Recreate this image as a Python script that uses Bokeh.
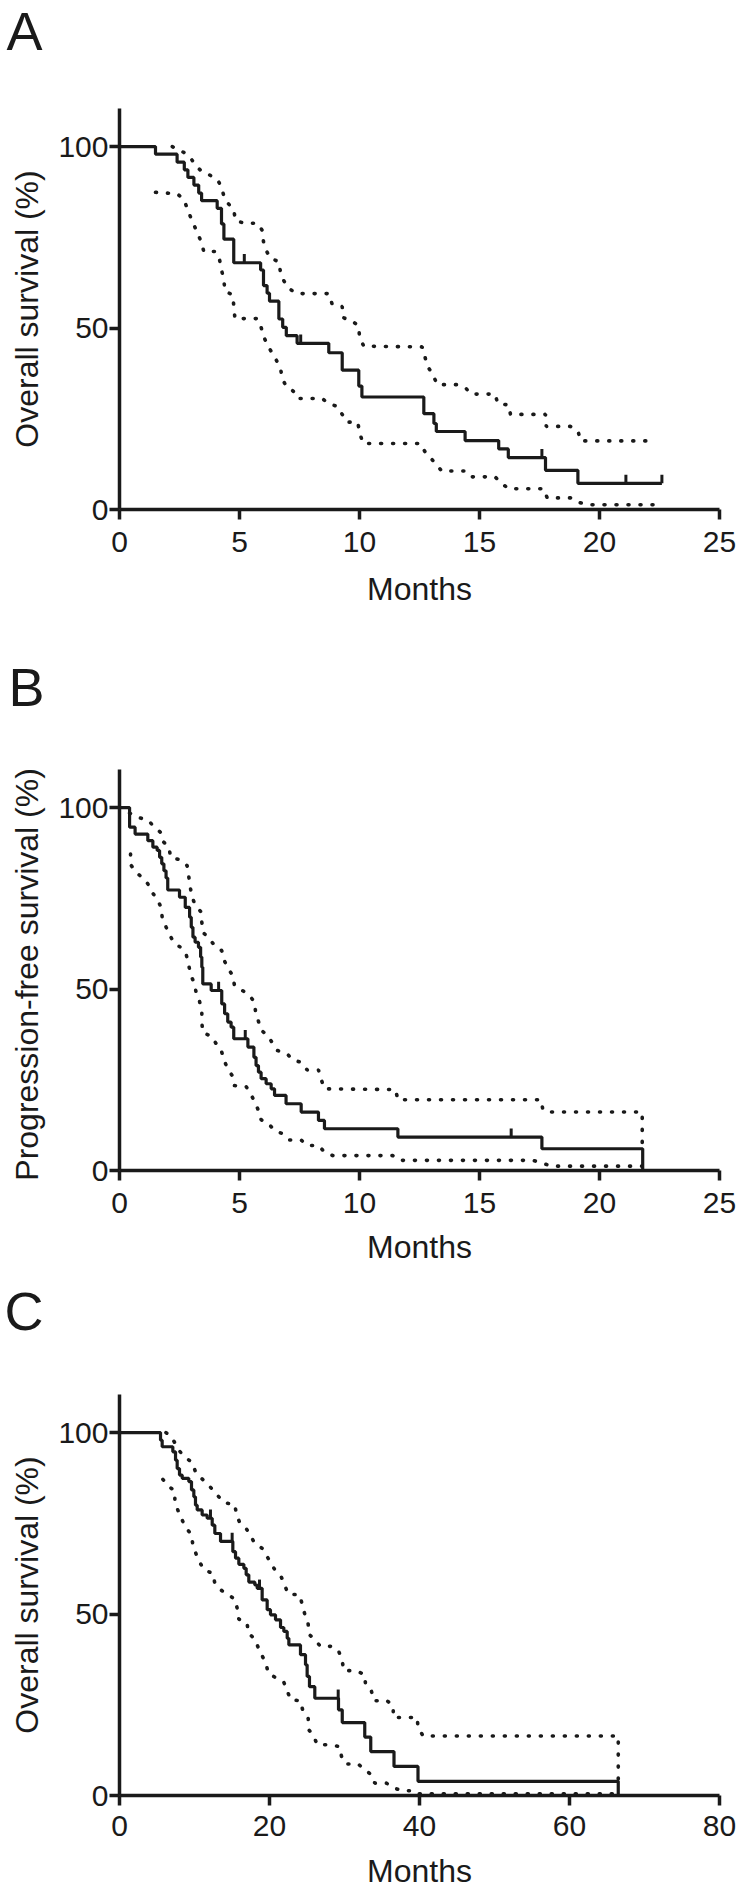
import numpy as np
from bokeh.plotting import figure
from bokeh.models import Range1d, FixedTicker
from bokeh.layouts import column
from bokeh.embed import file_html
from bokeh.resources import INLINE

# ---------------- Panel A: overall survival ----------------
A_time = [0, 1.5, 2.4, 2.7, 2.85, 3.1, 3.3, 3.42, 4.07, 4.25, 4.35, 4.76, 5.88, 6.0,
          6.15, 6.25, 6.64, 6.8, 6.95, 7.4, 8.72, 9.28, 9.97, 10.1, 12.68, 13.1, 13.2,
          14.4, 15.8, 16.2, 17.75, 19.1, 22.6]
A_surv = [100, 97.9, 95.7, 93.6, 91.5, 89.4, 87.2, 85.1, 83.0, 78.7, 74.5, 68.0, 66.0, 61.7,
          59.6, 57.4, 52.5, 50.2, 47.9, 45.8, 43.2, 38.4, 34.0, 31.0, 26.4, 23.7, 21.5,
          19.0, 16.7, 14.3, 10.8, 7.2, 7.2]
A_censor = [5.2, 7.55, 17.6, 21.1, 22.6]
A_up_t = [2.2, 2.68, 2.95, 3.17, 3.42, 3.72, 4.07, 4.25, 4.35, 4.53, 4.76, 4.83, 5.18, 5.74,
          5.94, 6.0, 6.11, 6.29, 6.64, 6.71, 6.85, 7.03, 7.4, 8.72, 8.86, 9.28, 9.31, 9.69,
          9.97, 10.0, 10.18, 12.61, 12.72, 12.82, 13.03, 13.24, 14.07, 14.42, 14.65, 15.65,
          15.76, 16.22, 16.29, 17.75, 17.78, 18.79, 19.11, 19.21, 22.24]
A_up_v = [100, 98.4, 97.0, 94.8, 93.2, 92.3, 91.0, 88.9, 86.3, 84.3, 82.6, 79.7, 78.9, 78.9,
          77.0, 73.8, 71.4, 69.2, 68.3, 65.3, 63.0, 61.0, 59.5, 59.5, 56.6, 55.9, 52.9, 51.9,
          50.6, 47.4, 45.0, 44.8, 42.3, 39.5, 37.6, 34.4, 34.4, 33.5, 31.8, 31.8,
          29.2, 28.8, 26.2, 26.2, 22.9, 22.9, 21.5, 18.9, 18.9]
A_lo_t = [1.5, 2.4, 2.68, 2.82, 2.96, 3.1, 3.24, 3.42, 3.51, 4.0, 4.17, 4.25, 4.35, 4.39,
          4.72, 4.76, 4.81, 5.74, 5.9, 6.01, 6.19, 6.53, 6.71, 6.78, 6.94, 7.24, 7.4, 8.44,
          8.72, 9.07, 9.28, 9.46, 9.93, 10.0, 10.15, 12.54, 12.72, 12.96, 13.21, 13.42,
          14.42, 14.65, 15.65, 15.9, 16.22, 17.68, 17.82, 18.79, 19.11, 19.53, 22.54]
A_lo_v = [87.4, 87.0, 85.5, 83.0, 80.6, 78.5, 76.2, 73.6, 71.1, 71.1, 68.8, 66.0, 63.3, 60.2,
          59.1, 56.2, 52.6, 52.6, 50.2, 47.6, 45.0, 41.2, 38.9, 36.1, 34.0, 32.6, 30.6, 30.6,
          29.2, 28.4, 26.2, 24.1, 24.0, 21.2, 18.2, 18.2, 16.0, 14.2, 12.4, 10.6,
          10.6, 9.0, 9.0, 7.3, 5.7, 5.7, 3.2, 3.2, 2.0, 1.3, 1.3]

# ---------------- Panel B: progression-free survival ----------------
B_time = [0, 0.42, 0.65, 1.18, 1.39, 1.57, 1.67, 1.76, 1.85, 1.94, 2.01, 2.5, 2.74, 2.92,
          2.99, 3.06, 3.15, 3.29, 3.38, 3.43, 3.47, 3.82, 4.26, 4.38, 4.51, 4.65, 4.76,
          5.35, 5.6, 5.69, 5.79, 5.9, 6.11, 6.32, 6.46, 6.94, 7.57, 8.29, 8.54, 11.6,
          17.6, 21.8]
B_surv = [100, 94.6, 92.7, 90.9, 89.1, 88.2, 86.3, 84.5, 82.6, 80.6, 77.3, 75.3, 72.5, 69.8,
          67.0, 64.3, 62.9, 61.5, 58.8, 56.0, 51.4, 49.6, 45.9, 43.2, 40.9, 39.5, 36.3,
          34.0, 31.2, 28.9, 27.1, 25.3, 23.9, 22.5, 20.7, 18.4, 16.1, 13.8, 11.5, 9.2,
          6.0, 0.0]
B_censor = [4.13, 5.24, 16.32]
B_up_t = [0.42, 0.76, 1.18, 1.43, 1.71, 1.81, 2.06, 2.13, 2.54, 2.82, 2.88, 2.94, 3.01, 3.13,
          3.4, 3.43, 3.5, 3.75, 3.96, 4.26, 4.35, 4.51, 4.72, 4.79, 5.07, 5.38, 5.63, 5.67,
          5.79, 5.9, 6.21, 6.39, 6.57, 6.99, 7.22, 7.57, 7.82, 8.29, 8.4, 8.54, 11.5, 11.6,
          17.57, 17.64, 17.9, 21.55, 21.78, 21.78]
B_up_v = [98.5, 97.3, 96.6, 94.8, 93.2, 90.7, 89.1, 86.3, 85.6, 84.0, 81.3, 78.4, 75.8, 73.5,
          71.2, 68.4, 65.5, 63.8, 62.0, 60.6, 58.1, 55.8, 53.7, 51.0, 49.8, 48.5, 46.4, 43.6,
          41.1, 38.7, 36.9, 34.9, 33.1, 32.1, 30.5, 29.8, 27.7, 27.7, 25.2, 22.5, 22.3, 19.5,
          19.5, 16.7, 16.1, 16.1, 16.1, 6.0]
B_lo_t = [0.46, 0.46, 0.69, 0.97, 1.18, 1.35, 1.57, 1.74, 1.78, 1.94, 2.08, 2.26, 2.54, 2.78,
          2.88, 2.96, 3.13, 3.19, 3.33, 3.43, 3.43, 3.47, 3.85, 4.03, 4.24, 4.35, 4.51, 4.72,
          4.79, 5.28, 5.46, 5.65, 5.79, 5.9, 6.21, 6.46, 6.81, 7.08, 7.57, 7.82, 8.29, 8.54,
          8.89, 11.39, 11.67, 17.22, 17.64, 17.99, 21.78]
B_lo_v = [87.2, 84.3, 82.2, 80.6, 79.0, 76.7, 74.8, 72.4, 69.6, 67.1, 65.0, 62.9, 61.5, 59.5,
          56.8, 54.0, 51.4, 49.1, 46.8, 43.6, 40.9, 38.0, 36.9, 34.9, 33.1, 30.5, 28.0, 25.9,
          23.4, 23.1, 21.1, 18.8, 16.5, 14.0, 12.9, 11.0, 10.1, 8.4, 8.4, 6.9, 6.9, 5.1,
          4.1, 4.1, 2.8, 2.8, 2.0, 1.2, 1.2]

# ---------------- Panel C: overall survival ----------------
C_time = [0, 5.47, 5.69, 7.11, 7.47, 7.69, 8.0, 8.36, 9.24, 9.6, 9.91, 10.13, 10.36, 11.02,
          11.69, 12.36, 12.71, 13.47, 15.11, 15.47, 15.91, 16.58, 16.89, 17.24, 18.04, 18.36,
          19.02, 19.69, 20.13, 20.8, 21.47, 21.91, 22.36, 22.58, 24.13, 24.8, 25.02, 25.33,
          26.04, 29.2, 29.7, 32.7, 33.5, 36.6, 39.8, 66.5]
C_surv = [100, 97.9, 96.1, 94.7, 92.4, 90.1, 88.3, 87.4, 86.5, 84.2, 82.3, 80.0, 78.7, 77.3,
          76.4, 74.5, 72.2, 70.0, 67.2, 65.4, 63.7, 62.6, 60.8, 58.8, 58.0, 57.1,
          53.9, 51.2, 49.8, 48.4, 46.3, 45.2, 43.3, 41.5, 38.8, 36.0, 32.8, 30.0,
          26.8, 23.6, 20.1, 16.1, 12.1, 8.0, 3.9, 0.0]
C_censor = [12.13, 15.02, 18.67, 29.16]
C_up_t = [6.2, 6.8, 7.47, 8.0, 8.8, 9.69, 10.13, 10.93, 11.69, 12.44, 13.24, 13.91, 15.38,
          15.56, 16.0, 16.89, 18.04, 19.02, 19.69, 20.8, 21.6, 22.04, 22.49, 24.0, 24.36,
          24.71, 25.16, 25.24, 26.04, 26.8, 28.44, 29.24, 29.69, 29.91, 31.47, 32.71, 32.8,
          33.6, 33.91, 35.6, 36.5, 36.5, 39.7, 39.8, 40.5, 66.1, 66.5, 66.5]
C_up_v = [100, 99.1, 96.9, 94.9, 93.1, 91.8, 89.2, 87.4, 86.0, 84.2, 82.3, 80.7, 80.2,
          77.8, 75.3, 73.6, 69.5, 68.1, 65.8, 61.9, 60.1, 57.9, 55.5, 55.3, 52.7,
          49.9, 47.2, 44.5, 42.9, 41.1, 41.1, 39.7, 37.1, 34.4, 34.4, 33.3, 30.5,
          28.7, 26.1, 26.2, 24.8, 21.5, 21.5, 18.6, 16.4, 16.4, 16.4, 3.9]
C_lo_t = [5.78, 6.49, 7.38, 7.38, 7.82, 8.36, 8.8, 9.6, 9.78, 10.22, 10.67, 11.24, 12.44,
          12.71, 13.47, 14.36, 15.38, 15.69, 15.91, 17.02, 17.16, 18.04, 18.49, 19.02, 19.56,
          19.82, 20.8, 21.91, 22.36, 22.8, 24.13, 24.44, 25.16, 25.24, 25.91, 26.36, 27.91,
          29.33, 29.6, 30.13, 31.82, 32.71, 33.6, 34.04, 35.6, 36.5, 37.8, 39.5, 39.9, 66.5]
C_lo_v = [87.1, 85.3, 83.9, 81.0, 78.4, 75.9, 73.8, 72.0, 69.0, 66.5, 64.4, 62.2, 61.2,
          58.5, 56.7, 55.5, 54.1, 51.6, 48.6, 47.5, 44.7, 43.2, 40.8, 38.5, 36.2,
          33.7, 32.5, 31.2, 28.9, 26.4, 26.1, 23.4, 21.2, 18.1, 16.3, 14.0, 14.0,
          13.5, 10.8, 8.7, 8.7, 7.1, 5.7, 3.4, 3.4, 2.1, 1.3, 1.3, 0.5, 0.5]

FONT = "Liberation Sans"
INK = "#1a1a1a"
LEFT = 119
RIGHT = 26
W = 745


def letter_fig(letter, height, x_pos):
    """A strip holding only the panel letter (as the figure title).
    The column aligns its frame with the panels' frames, so the title is
    shifted left from the frame edge (LEFT) to x_pos."""
    p = figure(width=W, height=height, x_range=Range1d(0, 1), y_range=Range1d(0, 1),
               x_axis_type=None, y_axis_type=None, output_backend="svg",
               toolbar_location=None, min_border=0)
    p.outline_line_color = None
    p.background_fill_color = "white"
    p.border_fill_color = "white"
    p.title.text = letter
    p.title.align = "left"
    p.title.offset = x_pos - LEFT
    p.title.standoff = 0
    p.title.vertical_align = "top"
    p.title.text_font = FONT
    p.title.text_font_size = "54px"
    p.title.text_font_style = "normal"
    p.title.text_color = INK
    return p


def panel(ylabel, xmax, xticks, t, s, cens, up_t, up_v, lo_t, lo_v,
          height, top, bottom, tick_standoff, xlab_standoff):
    p = figure(width=W, height=height, x_range=Range1d(0, xmax), y_range=Range1d(0, 110.5),
               output_backend="svg", toolbar_location=None,
               min_border_left=LEFT, min_border_right=RIGHT,
               min_border_top=top, min_border_bottom=bottom)
    p.outline_line_color = None
    p.xgrid.visible = False
    p.ygrid.visible = False
    p.background_fill_color = "white"
    p.border_fill_color = "white"

    p.xaxis.ticker = FixedTicker(ticks=xticks)
    p.yaxis.ticker = FixedTicker(ticks=[0, 50, 100])
    p.xaxis.axis_label = "Months"
    p.yaxis.axis_label = ylabel
    for ax in (p.xaxis[0], p.yaxis[0]):
        ax.axis_line_width = 3.5
        ax.axis_line_color = INK
        ax.major_tick_line_width = 3.5
        ax.major_tick_line_color = INK
        ax.major_tick_out = 10
        ax.major_tick_in = 0
        ax.minor_tick_line_color = None
        ax.major_label_text_font = FONT
        ax.major_label_text_font_size = "30px"
        ax.major_label_text_color = INK
        ax.axis_label_text_font = FONT
        ax.axis_label_text_font_size = "32px"
        ax.axis_label_text_font_style = "normal"
        ax.axis_label_text_color = INK
    p.xaxis.major_label_standoff = tick_standoff
    p.xaxis.axis_label_standoff = xlab_standoff
    p.yaxis.major_label_standoff = 1
    p.yaxis.axis_label_standoff = 10

    # confidence bands (dotted)
    p.line(up_t, up_v, line_width=3.6, line_color=INK, line_dash="1 11", line_cap="round")
    p.line(lo_t, lo_v, line_width=3.6, line_color=INK, line_dash="1 11", line_cap="round")
    # Kaplan-Meier curve
    p.step(t, s, mode="after", line_width=3.2, line_color=INK)
    # censor marks
    ta = np.array(t)
    sa = np.array(s)
    idx = np.searchsorted(ta, np.array(cens), side="right") - 1
    cv = sa[idx]
    p.segment(x0=cens, y0=cv, x1=cens, y1=cv + 2.4, line_width=3, line_color=INK)
    return p


lA = letter_fig("A", 70, 6)
pA = panel("Overall survival (%)", 25, [0, 5, 10, 15, 20, 25],
           A_time, A_surv, A_censor, A_up_t, A_up_v, A_lo_t, A_lo_v,
           586, 38, 147, 12, 16)
lB = letter_fig("B", 70, 8)
pB = panel("Progression-free survival  (%)", 25, [0, 5, 10, 15, 20, 25],
           B_time, B_surv, B_censor, B_up_t, B_up_v, B_lo_t, B_lo_v,
           554, 43, 110, 12, 13)
lC = letter_fig("C", 70, 4)
pC = panel("Overall survival (%)", 80, [0, 20, 40, 60, 80],
           C_time, C_surv, C_censor, C_up_t, C_up_v, C_lo_t, C_lo_v,
           554, 44, 109, 10, 14)

layout = column(lA, pA, lB, pB, lC, pC)
open("out.html", "w").write(file_html(layout, INLINE))
